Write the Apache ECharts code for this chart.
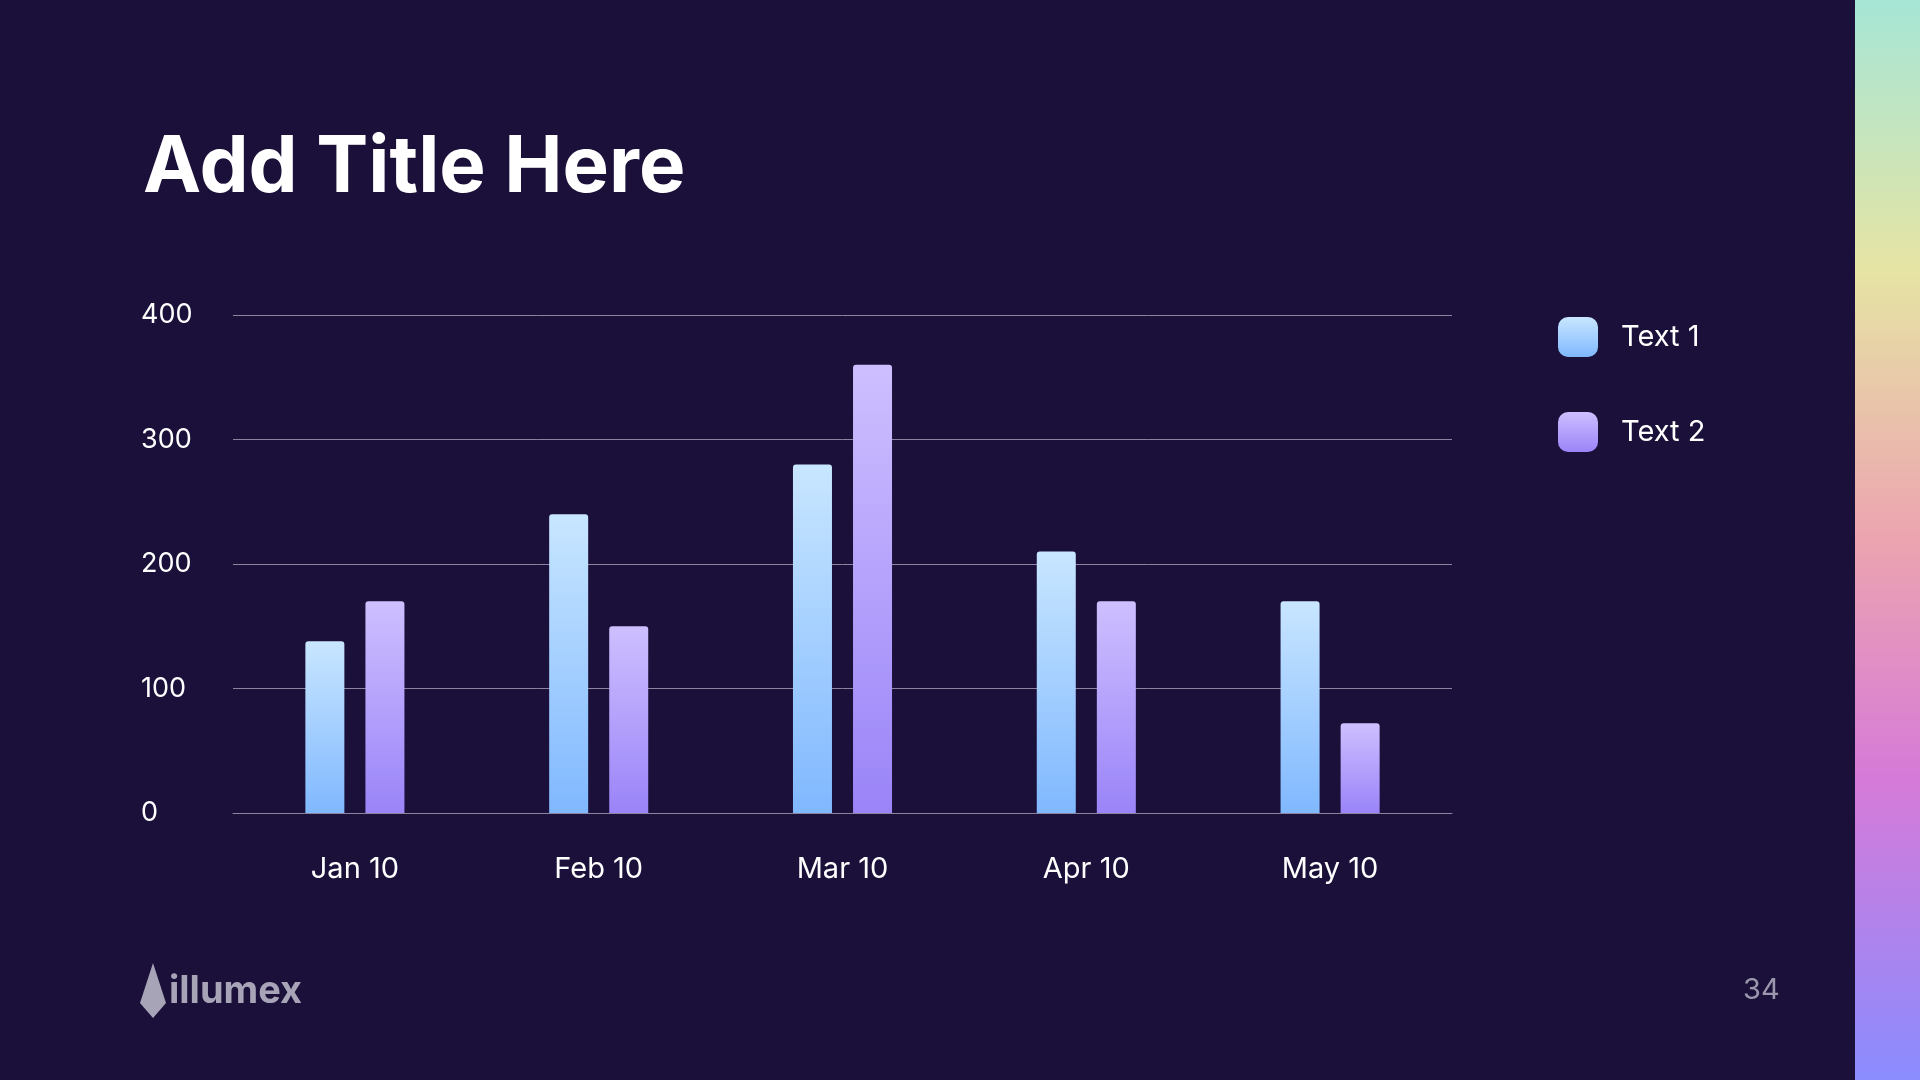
<!DOCTYPE html>
<html>
<head>
<meta charset="utf-8">
<script src="https://cdn.jsdelivr.net/npm/echarts@6/dist/echarts.min.js"></script>
<style>
  html, body { margin: 0; padding: 0; background: #1b1039; }
  #chart { width: 1920px; height: 1080px; }
</style>
</head>
<body>
<div id="chart"></div>
<script>
// data
const months = ['Jan 10', 'Feb 10', 'Mar 10', 'Apr 10', 'May 10'];
const text1 = [138, 240, 280, 210, 170];
const text2 = [170, 150, 360, 170, 72];

const chart = echarts.init(document.getElementById('chart'));

function grad(top, bottom) {
    return new echarts.graphic.LinearGradient(0, 0, 0, 1, [
        { offset: 0, color: top },
        { offset: 1, color: bottom }
    ]);
}

const option = {
    backgroundColor: '#1b1039',
    textStyle: { fontFamily: 'Inter' },
    title: {
        text: 'Add Title Here',
        left: 138, top: 125,
        textStyle: { color: '#ffffff', fontSize: 78, fontWeight: 'bold', fontFamily: 'Inter' }
    },
    legend: {
        orient: 'vertical',
        left: 1553, top: 312,
        itemWidth: 40, itemHeight: 40,
        itemGap: 55,
        icon: 'roundRect',
        textStyle: { color: '#ffffff', fontSize: 29, padding: [0, 0, 0, 18] },
        data: ['Text 1', 'Text 2']
    },
    grid: { left: 233, right: 468, top: 315, bottom: 267 },
    xAxis: {
        type: 'category',
        data: months,
        axisLine: { lineStyle: { color: '#8a84a0' } },
        axisTick: { show: false },
        axisLabel: { color: '#ffffff', fontSize: 29, margin: 42 }
    },
    yAxis: {
        type: 'value',
        min: 0, max: 400, interval: 100,
        axisLabel: { color: '#ffffff', fontSize: 27, align: 'left', margin: 92 },
        splitLine: { lineStyle: { color: '#8a84a0', width: 1 } }
    },
    series: [
        {
            name: 'Text 1', type: 'bar', data: text1,
            barWidth: 39, barGap: '54%',
            itemStyle: { color: grad('#c8e6ff', '#80b8ff'), borderRadius: [3, 3, 0, 0] }
        },
        {
            name: 'Text 2', type: 'bar', data: text2,
            barWidth: 39,
            itemStyle: { color: grad('#cdbfff', '#9a84f8'), borderRadius: [3, 3, 0, 0] }
        }
    ],
    graphic: [
        {
            type: 'rect', left: 1855, top: 0,
            shape: { width: 65, height: 1080 },
            style: {
                fill: new echarts.graphic.LinearGradient(0, 0, 0, 1, [
                    { offset: 0, color: '#a6e6d6' },
                    { offset: 0.25, color: '#e6e4a4' },
                    { offset: 0.5, color: '#eca4b0' },
                    { offset: 0.72, color: '#d67ad8' },
                    { offset: 1, color: '#8a8cff' }
                ])
            }
        },
        {
            type: 'polygon',
            shape: { points: [[153, 963], [140, 1003], [153, 1018], [166, 1003]] },
            style: { fill: '#a8a4b8' }
        },
        {
            type: 'text', left: 169, top: 973,
            style: { text: 'illumex', fill: '#a8a4b8', fontSize: 38, fontWeight: 'bold', fontFamily: 'Inter' }
        },
        {
            type: 'text', left: 1743, top: 976,
            style: { text: '34', fill: '#9a96ac', fontSize: 29, fontFamily: 'Inter' }
        }
    ]
};

chart.setOption(option);
</script>
</body>
</html>
